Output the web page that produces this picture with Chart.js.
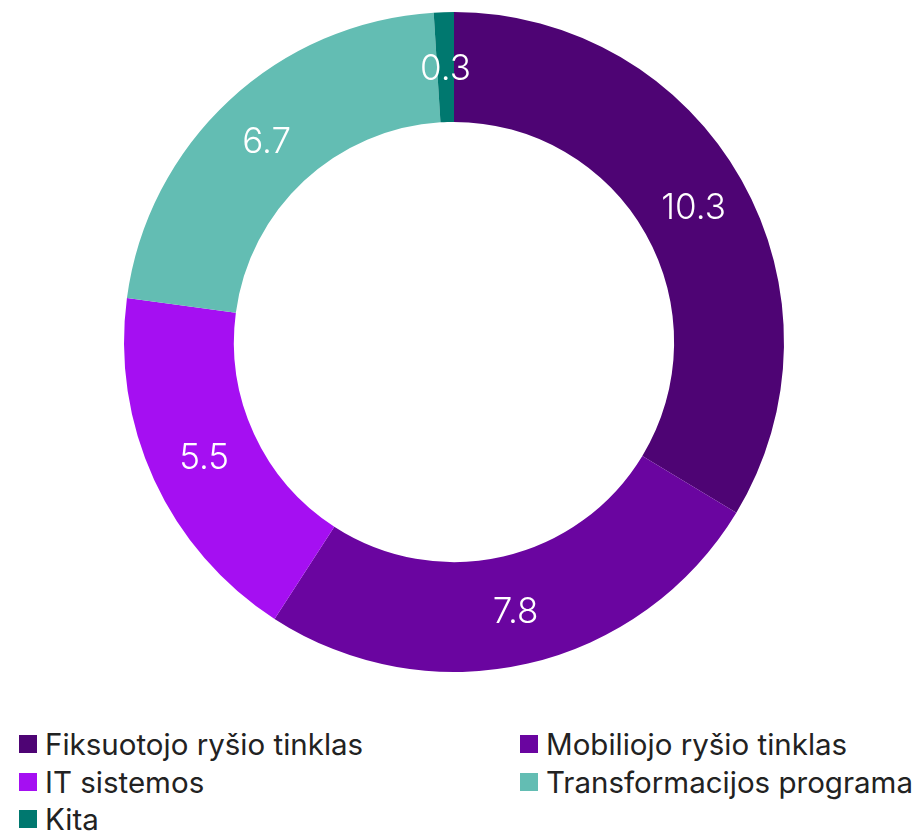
<!DOCTYPE html>
<html>
<head>
<meta charset="utf-8">
<script src="https://cdn.jsdelivr.net/npm/chart.js@4/dist/chart.umd.min.js"></script>
<style>
  html, body { margin:0; padding:0; background:#fff; width:923px; height:834px; overflow:hidden; font-family: Inter, "Noto Sans", sans-serif; }
  #wrap { position:absolute; left:0; top:0; width:908px; height:684px; }
  .leg { position:absolute; display:flex; align-items:center; font-size:29.5px; color:#222; white-space:nowrap; }
  .leg .box { width:18px; height:18px; margin-right:8px; flex:none; }
</style>
</head>
<body>
<div id="wrap"><canvas id="c"></canvas></div>
<div id="legend"></div>
<script>
const categories = ["Fiksuotojo ryšio tinklas", "Mobiliojo ryšio tinklas", "IT sistemos", "Transformacijos programa", "Kita"];
const values = [10.3, 7.8, 5.5, 6.7, 0.3];
const colors = ["#4e0474", "#6a05a0", "#a50ff2", "#63bdb3", "#00786f"];

const labelPlugin = {
  id: 'sliceLabels',
  afterDatasetsDraw(chart) {
    const ctx = chart.ctx;
    const meta = chart.getDatasetMeta(0);
    ctx.save();
    ctx.fillStyle = '#fff';
    ctx.font = '300 35px Inter, "Noto Sans", sans-serif';
    ctx.textAlign = 'center';
    ctx.textBaseline = 'middle';
    meta.data.forEach((arc, i) => {
      const p = arc.tooltipPosition();
      ctx.fillText(String(values[i]), p.x, p.y + 2);
    });
    ctx.restore();
  }
};

new Chart(document.getElementById('c'), {
  type: 'doughnut',
  data: {
    labels: categories,
    datasets: [{ data: values, backgroundColor: colors, borderWidth: 0 }]
  },
  options: {
    responsive: true,
    maintainAspectRatio: false,
    animation: false,
    cutout: '66.7%',
    layout: { padding: 12 },
    plugins: { legend: { display: false }, tooltip: { enabled: false } }
  },
  plugins: [labelPlugin]
});

const pos = [[19, 744], [520, 744], [19, 782], [520, 782], [19, 819]];
const legend = document.getElementById('legend');
categories.forEach((c, i) => {
  const d = document.createElement('div');
  d.className = 'leg';
  d.style.left = pos[i][0] + 'px';
  d.style.top = (pos[i][1] - 18) + 'px';
  d.style.height = '36px';
  d.innerHTML = '<span class="box" style="background:' + colors[i] + '"></span><span>' + c + '</span>';
  legend.appendChild(d);
});
</script>
</body>
</html>
